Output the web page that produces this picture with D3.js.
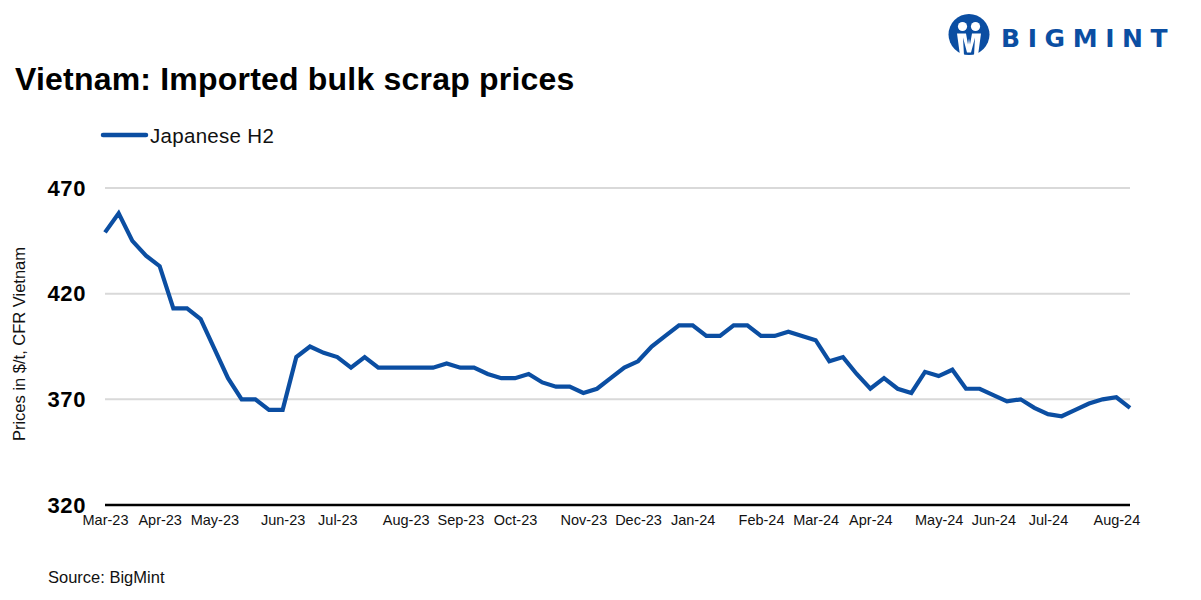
<!DOCTYPE html>
<html>
<head>
<meta charset="utf-8">
<script src="https://cdn.jsdelivr.net/npm/d3@7/dist/d3.min.js"></script>
<style>
  html, body { margin: 0; padding: 0; background: #fff; }
  svg { display: block; font-family: "Liberation Sans", Arial, sans-serif; }
</style>
</head>
<body>
<svg id="chart" width="1201" height="600"></svg>
<script>
// ---- Data ----
const seriesName = "Japanese H2";
// Weekly observations (Mondays) starting 6 Mar 2023
const startWeek = "2023-03-06";
const prices = [
  449, 458, 445, 438, 433, 413, 413, 408, 394, 380,
  370, 370, 365, 365, 390, 395, 392, 390, 385, 390,
  385, 385, 385, 385, 385, 387, 385, 385, 382, 380,
  380, 382, 378, 376, 376, 373, 375, 380, 385, 388,
  395, 400, 405, 405, 400, 400, 405, 405, 400, 400,
  402, 400, 398, 388, 390, 382, 375, 380, 375, 373,
  383, 381, 384, 375, 375, 372, 369, 370, 366, 363,
  362, 365, 368, 370, 371, 366
];
const yTicks = [320, 370, 420, 470];
const xTickLabels = ["Mar-23","Apr-23","May-23","Jun-23","Jul-23","Aug-23","Sep-23","Oct-23","Nov-23","Dec-23","Jan-24","Feb-24","Mar-24","Apr-24","May-24","Jun-24","Jul-24","Aug-24"];

// categories: week-start dates
const parse = d3.timeParse("%Y-%m-%d");
const start = parse(startWeek);
const categories = d3.timeMonday.range(start, d3.timeMonday.offset(start, prices.length));
const fmtMonth = d3.timeFormat("%b-%y");

// ---- Layout ----
const svg = d3.select("#chart");
const margin = { left: 105, right: 1130, top: 188, bottom: 505 };

const x = d3.scalePoint()
  .domain(categories.map((d, i) => i))
  .range([margin.left, margin.right]);
const y = d3.scaleLinear().domain([320, 470]).range([margin.bottom, margin.top]);

// tick indices: first week of each month
const tickIdx = [];
categories.forEach((d, i) => {
  if (i === 0 || d.getMonth() !== categories[i - 1].getMonth()) {
    if (xTickLabels.includes(fmtMonth(d))) tickIdx.push(i);
  }
});

// Gridlines
svg.append("g")
  .selectAll("line")
  .data(yTicks.filter(t => t !== 320))
  .join("line")
  .attr("x1", margin.left).attr("x2", margin.right)
  .attr("y1", d => y(d)).attr("y2", d => y(d))
  .attr("stroke", "#d9d9d9").attr("stroke-width", 2);

// Y axis labels
const yAxis = d3.axisLeft(y).tickValues(yTicks).tickSize(0).tickPadding(0);
const gy = svg.append("g").attr("transform", "translate(86,0)").call(yAxis);
gy.select(".domain").remove();
gy.selectAll("text")
  .attr("font-family", "Liberation Sans, Arial, sans-serif")
  .attr("font-size", 22).attr("font-weight", "bold").attr("fill", "#000")
  .attr("letter-spacing", 0.6);

// X axis
const xAxis = d3.axisBottom(x)
  .tickValues(tickIdx)
  .tickFormat(i => fmtMonth(categories[i]))
  .tickSize(0).tickPadding(10);
const gx = svg.append("g").attr("transform", `translate(0,${margin.bottom})`).call(xAxis);
gx.select(".domain").attr("stroke", "#000").attr("stroke-width", 2.5)
  .attr("d", `M${margin.left},0H${margin.right}`);
gx.selectAll("text")
  .attr("font-family", "Liberation Sans, Arial, sans-serif")
  .attr("font-size", 14.5).attr("fill", "#111");

// Line
const line = d3.line().x((d, i) => x(i)).y(d => y(d));
svg.append("path")
  .datum(prices)
  .attr("d", line)
  .attr("fill", "none")
  .attr("stroke", "#0b4ea2")
  .attr("stroke-width", 4.2)
  .attr("stroke-linejoin", "miter");

// Y axis title
svg.append("text")
  .attr("transform", "translate(25,344) rotate(-90)")
  .attr("text-anchor", "middle")
  .attr("font-size", 16.5).attr("fill", "#111")
  .text("Prices in $/t, CFR Vietnam");

// Title
svg.append("text")
  .attr("x", 15).attr("y", 90)
  .attr("font-size", 32).attr("font-weight", "bold").attr("fill", "#000")
  .attr("letter-spacing", 0.2)
  .text("Vietnam: Imported bulk scrap prices");

// Legend
svg.append("line")
  .attr("x1", 103).attr("x2", 146).attr("y1", 135).attr("y2", 135)
  .attr("stroke", "#0b4ea2").attr("stroke-width", 4.5).attr("stroke-linecap", "round");
svg.append("text")
  .attr("x", 150).attr("y", 143)
  .attr("font-size", 20.5).attr("fill", "#111")
  .attr("letter-spacing", 0.3)
  .text(seriesName);

// Source
svg.append("text")
  .attr("x", 48).attr("y", 583)
  .attr("font-size", 16.5).attr("fill", "#111")
  .text("Source: BigMint");

// Logo
const logo = svg.append("g").attr("transform", "translate(969,34.5)");
logo.append("circle").attr("r", 20.5).attr("fill", "#0b4ea2");
logo.append("circle").attr("cx", -6.5).attr("cy", -8).attr("r", 4.6).attr("fill", "#fff");
logo.append("circle").attr("cx", 6.5).attr("cy", -8).attr("r", 4.6).attr("fill", "#fff");
logo.append("path")
  .attr("d", "M-12,-1 L-3,-1 L-1,10 L0,4 L1,10 L3,-1 L12,-1 L9,21 L5,21 L6,3 L2,18 L-2,18 L-6,3 L-5,21 L-9,21 Z")
  .attr("fill", "#fff");
svg.append("text")
  .attr("x", 1001).attr("y", 47)
  .attr("font-size", 25).attr("font-weight", "bold").attr("fill", "#0b4ea2")
  .attr("letter-spacing", 7.6)
  .attr("font-family", "DejaVu Sans, Liberation Sans, sans-serif")
  .text("BIGMINT");
</script>
</body>
</html>
